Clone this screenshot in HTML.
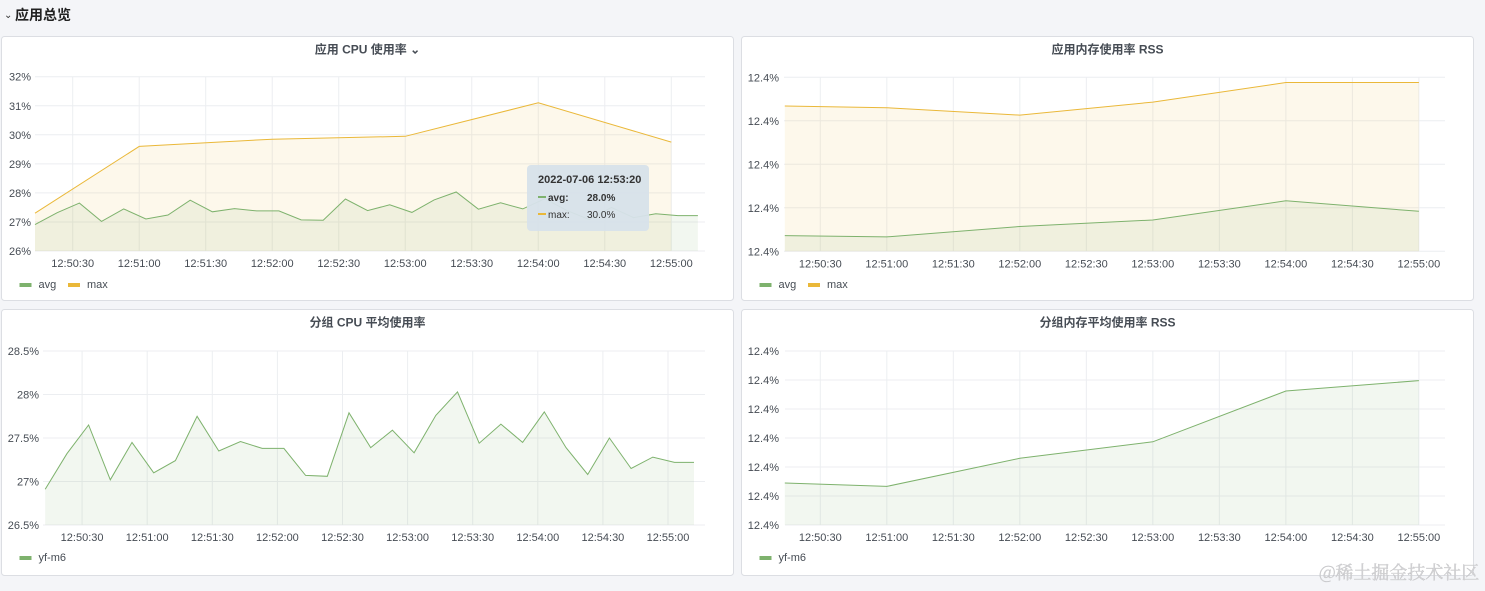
<!DOCTYPE html>
<html><head><meta charset="utf-8">
<style>
html,body{margin:0;padding:0;background:#f4f5f8;}
svg{display:block;font-family:"Liberation Sans","Noto Sans CJK SC",sans-serif;}
</style></head>
<body>
<svg id="root" width="1485" height="591" viewBox="0 0 1485 591" xmlns="http://www.w3.org/2000/svg">
<rect x="0" y="0" width="1485" height="591" fill="#f4f5f8"/>
<g>
<text x="4" y="18" font-size="10" fill="#333">⌄</text>
<text x="15" y="20" font-size="14" font-weight="bold" fill="#222">应用总览</text>
</g>
</svg>
<script>
// ---------- data ----------
const cpuTimes = [13,23,33,43,53,63,73,83,93,103,113,123,133,143,153,163,173,183,193,203,213,223,233,243,253,263,273,283,293,303,312];
const cpuAvg = [26.91,27.32,27.65,27.02,27.45,27.10,27.24,27.75,27.35,27.46,27.38,27.38,27.07,27.06,27.79,27.39,27.59,27.33,27.76,28.03,27.44,27.66,27.45,27.80,27.39,27.08,27.50,27.15,27.28,27.22,27.22];
const cpuMaxTimes = [13,60,120,180,240,300];
const cpuMax = [27.30,29.60,29.85,29.95,31.10,29.75];
const memTimes = [14,60,120,180,240,300];
const memMax = [12.400334,12.400330,12.400313,12.400343,12.400388,12.400388];
const memAvg = [12.400036,12.400033,12.400057,12.400072,12.400116,12.400092];
const grpMem = [12.400145,12.400133,12.400230,12.400287,12.400462,12.400498];
const xTickTimes = [30,60,90,120,150,180,210,240,270,300];
const xTickLabels = ["12:50:30","12:51:00","12:51:30","12:52:00","12:52:30","12:53:00","12:53:30","12:54:00","12:54:30","12:55:00"];
const cpuTicks = [26,27,28,29,30,31,32];
const cpuTickLabels = ["26%","27%","28%","29%","30%","31%","32%"];
const grpCpuTicks = [26.5,27,27.5,28,28.5];
const grpCpuTickLabels = ["26.5%","27%","27.5%","28%","28.5%"];
const memTicks = [12.4000,12.4001,12.4002,12.4003,12.4004];
const grpMemTicks = [12.4000,12.4001,12.4002,12.4003,12.4004,12.4005,12.4006];

const NS="http://www.w3.org/2000/svg";
const root=document.getElementById('root');
function mk(tag,attrs,parent){const e=document.createElementNS(NS,tag);for(const k in attrs)e.setAttribute(k,attrs[k]);(parent||root).appendChild(e);return e;}
const GREEN="#7eb26d",YELLOW="#eab839";

function panel(cfg){
  const g=mk('g',{});
  
  
  const bg=mk('rect',{x:cfg.px,y:cfg.py,width:cfg.pw,height:cfg.ph,rx:3,fill:'#fff',stroke:'#dcdee3'},g);
  
  
  const t=mk('text',{x:cfg.px+cfg.pw/2,y:cfg.py+17,'text-anchor':'middle','font-size':12,'font-weight':'bold',fill:'#464c54'},g);
  t.textContent=cfg.title;
  
  
  const xs=t0=>cfg.x30+(t0-30)*cfg.xPer;
  const ys=v=>cfg.yB+(v-cfg.yMin)/(cfg.yMax-cfg.yMin)*(cfg.yT-cfg.yB);
  const grid=mk('g',{},g);
  
  
  cfg.yTicks.forEach((v,i)=>{
    const y=ys(v);
    const l=mk('line',{x1:cfg.left,x2:cfg.right,y1:y,y2:y,stroke:'#eceef1'},grid);
    
    
    const tx=mk('text',{x:cfg.labelRight,y:y+4,'text-anchor':'end','font-size':11,fill:'#464c54'},g);
    tx.textContent=cfg.yLabels[i];
    
    
  });
  xTickTimes.forEach((tt,i)=>{
    const x=xs(tt);
    const l=mk('line',{x1:x,x2:x,y1:cfg.yT,y2:cfg.yB,stroke:'#eceef1'},grid);
    
    
    const tx=mk('text',{x:x,y:cfg.yB+16,'text-anchor':'middle','font-size':11,fill:'#464c54'},g);
    tx.textContent=xTickLabels[i];
    
    
  });
  cfg.series.forEach(s=>{
    const pts=s.times.map((tt,i)=>[xs(tt),ys(s.values[i])]);
    const d=pts.map((p,i)=>(i?'L':'M')+p[0].toFixed(1)+' '+p[1].toFixed(1)).join(' ');
    const area=mk('path',{d:d+' L'+pts[pts.length-1][0].toFixed(1)+' '+cfg.yB+' L'+pts[0][0].toFixed(1)+' '+cfg.yB+' Z',fill:s.color,'fill-opacity':0.1},g);
    
    
    const line=mk('path',{d:d,fill:'none',stroke:s.color,'stroke-width':1},g);
    
    
  });
  let lx=cfg.px+18;
  cfg.legend.forEach(s=>{
    const lg=mk('g',{},g);
    
    
    mk('rect',{x:lx,y:cfg.legendY-3,width:12,height:4,fill:s.color},lg);
    const tx=mk('text',{x:lx+19,y:cfg.legendY+2,'font-size':11,fill:'#464c54'},lg);
    tx.textContent=s.label;
    lx+=19+s.label.length*6.5+10;
  });
}

const fmtMem=v=>v.toFixed(1)+'%';
panel({name:'app-cpu-panel',title:'应用 CPU 使用率 ⌄',px:1.5,py:36.5,pw:732,ph:264,
  x30:72.7,xPer:2.217,left:35,right:705,yT:76.7,yB:251,yMin:26,yMax:32,
  yTicks:cpuTicks,yLabels:cpuTickLabels,labelRight:31,legendY:286,
  series:[{label:'max',times:cpuMaxTimes,values:cpuMax,color:YELLOW},{label:'avg',times:cpuTimes,values:cpuAvg,color:GREEN}],
  legend:[{label:'avg',color:GREEN},{label:'max',color:YELLOW}]});
panel({name:'app-memory-panel',title:'应用内存使用率 RSS',px:741.5,py:36.5,pw:732,ph:264,
  x30:820.3,xPer:2.217,left:784,right:1445,yT:77.3,yB:251.3,yMin:12.4,yMax:12.4004,
  yTicks:memTicks,yLabels:memTicks.map(fmtMem),labelRight:779,legendY:286,
  series:[{label:'max',times:memTimes,values:memMax,color:YELLOW},{label:'avg',times:memTimes,values:memAvg,color:GREEN}],
  legend:[{label:'avg',color:GREEN},{label:'max',color:YELLOW}]});
panel({name:'group-cpu-panel',title:'分组 CPU 平均使用率',px:1.5,py:309.5,pw:732,ph:266,
  x30:82.1,xPer:2.17,left:43,right:705,yT:351,yB:525,yMin:26.5,yMax:28.5,
  yTicks:grpCpuTicks,yLabels:grpCpuTickLabels,labelRight:39,legendY:559,
  series:[{label:'yf-m6',times:cpuTimes,values:cpuAvg,color:GREEN}],
  legend:[{label:'yf-m6',color:GREEN}]});
panel({name:'group-memory-panel',title:'分组内存平均使用率 RSS',px:741.5,py:309.5,pw:732,ph:266,
  x30:820.3,xPer:2.217,left:785,right:1445,yT:351,yB:525,yMin:12.4,yMax:12.4006,
  yTicks:grpMemTicks,yLabels:grpMemTicks.map(fmtMem),labelRight:779,legendY:559,
  series:[{label:'yf-m6',times:memTimes,values:grpMem,color:GREEN}],
  legend:[{label:'yf-m6',color:GREEN}]});

// tooltip
const tip=mk('g',{});


mk('rect',{x:527,y:165,width:122,height:66,rx:4,fill:'#d7e1ea','fill-opacity':0.95},tip);
const tt1=mk('text',{x:538,y:183,'font-size':11,'font-weight':'bold',fill:'#333'},tip);tt1.textContent='2022-07-06 12:53:20';
mk('rect',{x:538,y:196,width:8,height:2,fill:GREEN},tip);
const tt2=mk('text',{x:548,y:201,'font-size':10,'font-weight':'bold',fill:'#333'},tip);tt2.textContent='avg:';
const tt3=mk('text',{x:587,y:201,'font-size':10,'font-weight':'bold',fill:'#333'},tip);tt3.textContent='28.0%';
mk('rect',{x:538,y:213,width:8,height:2,fill:YELLOW},tip);
const tt4=mk('text',{x:548,y:218,'font-size':10,fill:'#333'},tip);tt4.textContent='max:';
const tt5=mk('text',{x:587,y:218,'font-size':10,fill:'#333'},tip);tt5.textContent='30.0%';

const wm=mk('text',{x:1319,y:579,'font-size':18,fill:'#d4d4d6',stroke:'#bfbfc2','stroke-width':0.3,'font-family':'"Noto Serif CJK SC","Liberation Serif",serif'});
wm.textContent='@稀土掘金技术社区';


</script>
</body></html>
